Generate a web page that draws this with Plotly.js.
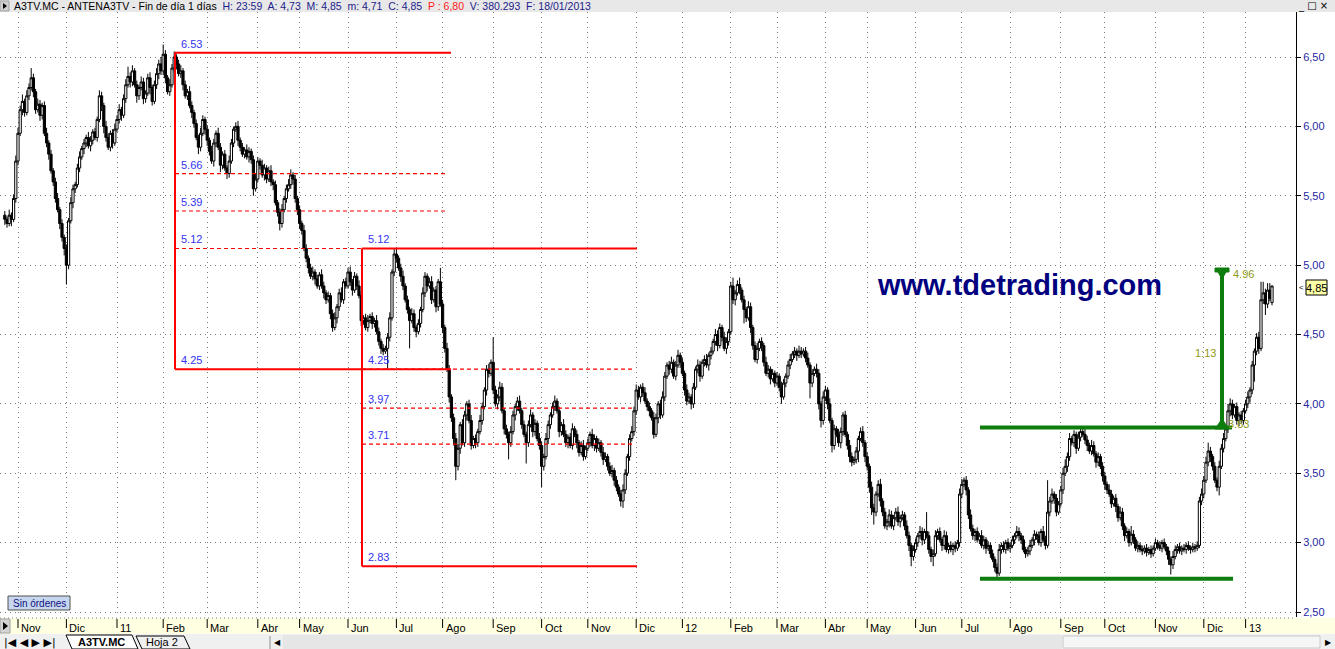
<!DOCTYPE html>
<html><head><meta charset="utf-8">
<script src="https://cdn.plot.ly/plotly-3.0.1.min.js"></script>
<style>html,body{margin:0;padding:0;background:#fff;overflow:hidden}#chart{width:1335px;height:649px}</style>
</head><body><div id="chart"></div>
<script>
// ---- daily closes per month ----
const c_oct10 = [5.33,5.30,5.36,5.33,5.48,5.75];
const c_nov10 = [5.95,6.12,6.18,6.10,6.22,6.28,6.35,6.25,6.12,6.16,6.08,6.15,5.95,5.88,5.80,5.68,5.60,5.48,5.40,5.30,5.20,5.12];
const c_dec10 = [5.00,5.32,5.45,5.55,5.58,5.70,5.78,5.84,5.88,5.92,5.86,5.90,5.96,5.92,6.05,6.22,6.15,6.00,5.92,5.85,5.95,5.88,5.98];
const c_jan11 = [6.05,6.12,6.08,6.20,6.30,6.36,6.32,6.40,6.30,6.22,6.28,6.32,6.20,6.24,6.35,6.28,6.18,6.30,6.38,6.45,6.40];
const c_feb11 = [6.52,6.35,6.25,6.30,6.42,6.50,6.45,6.38,6.40,6.30,6.22,6.25,6.15,6.10,6.02,5.92,5.85,5.95,6.05,5.98];
const c_mar11 = [5.90,5.82,5.75,5.88,5.95,5.85,5.72,5.80,5.70,5.66,5.75,5.88,5.98,6.00,5.90,5.85,5.80,5.83,5.78,5.82,5.76,5.55,5.62];
const c_apr11 = [5.75,5.72,5.65,5.70,5.62,5.68,5.60,5.58,5.45,5.38,5.30,5.40,5.48,5.55,5.58,5.65,5.62,5.48,5.40];
const c_may11 = [5.30,5.25,5.12,5.05,4.98,4.92,4.95,4.90,4.85,4.93,4.85,4.80,4.75,4.78,4.65,4.55,4.62,4.70,4.80,4.75,4.88,4.85];
const c_jun11 = [4.95,4.88,4.82,4.92,4.85,4.78,4.60,4.62,4.55,4.60,4.63,4.58,4.60,4.52,4.45,4.40,4.38,4.40,4.48,4.62,4.95,5.08];
const c_jul11 = [5.05,4.98,4.92,4.85,4.75,4.68,4.60,4.65,4.55,4.52,4.58,4.68,4.80,4.92,4.85,4.88,4.75,4.82,4.70,4.88,4.72];
const c_aug11 = [4.55,4.40,4.25,4.05,3.90,3.75,3.55,3.68,3.85,3.72,3.92,4.00,3.88,3.70,3.75,3.72,3.80,3.88,3.98,4.10,4.25,4.22,4.30];
const c_sep11 = [4.10,4.00,4.05,4.12,3.95,3.82,3.78,3.72,3.80,3.92,3.98,4.02,3.95,3.85,3.78,3.72,3.85,3.92,3.80,3.86,3.75,3.70];
const c_oct11 = [3.55,3.62,3.75,3.85,3.92,3.98,4.02,3.95,3.80,3.85,3.78,3.72,3.76,3.70,3.82,3.78,3.72,3.65,3.70,3.62,3.68];
const c_nov11 = [3.72,3.78,3.70,3.75,3.68,3.72,3.65,3.60,3.62,3.55,3.50,3.52,3.45,3.40,3.35,3.30,3.38,3.50,3.62,3.75,3.80,3.95];
const c_dec11 = [4.10,4.05,4.12,4.08,4.02,3.98,3.95,3.90,3.78,3.90,4.00,3.92,4.05,4.20,4.28,4.25,4.30,4.20,4.28,4.35,4.30];
const c_jan12 = [4.22,4.10,4.02,4.05,4.00,4.12,4.25,4.28,4.20,4.30,4.32,4.28,4.35,4.38,4.45,4.50,4.42,4.55,4.48,4.40,4.45,4.52];
const c_feb12 = [4.85,4.75,4.80,4.86,4.82,4.75,4.68,4.62,4.70,4.55,4.42,4.32,4.40,4.45,4.42,4.30,4.22,4.25,4.18,4.22,4.15];
const c_mar12 = [4.20,4.12,4.05,4.15,4.20,4.28,4.32,4.36,4.38,4.35,4.38,4.36,4.38,4.33,4.28,4.15,4.22,4.25,4.22,4.00,3.88,4.05];
const c_apr12 = [4.10,4.00,3.88,3.70,3.82,3.78,3.72,3.80,3.92,3.78,3.70,3.62,3.58,3.60,3.66,3.75,3.80,3.72,3.62];
const c_may12 = [3.55,3.40,3.25,3.22,3.35,3.42,3.30,3.22,3.12,3.15,3.20,3.12,3.18,3.22,3.15,3.18,3.20,3.12,3.05,2.98,2.90,2.95];
const c_jun12 = [3.00,3.05,3.08,3.02,3.08,3.05,2.95,2.90,2.92,3.05,3.08,3.02,2.98,3.05,2.95,2.98,2.95,2.98,2.96,3.00,3.35];
const c_jul12 = [3.42,3.45,3.38,3.20,3.10,3.05,3.08,3.02,3.05,2.98,3.02,2.96,2.98,2.92,2.88,2.82,2.78,2.95,2.98,2.95,3.00,2.96];
const c_aug12 = [2.98,3.02,3.05,3.08,3.05,3.02,2.95,2.92,2.94,2.98,3.02,3.06,3.05,3.00,3.08,3.02,2.98,3.22,3.30,3.35,3.32,3.22,3.28];
const c_sep12 = [3.38,3.50,3.55,3.62,3.75,3.72,3.78,3.68,3.76,3.80,3.78,3.74,3.70,3.66,3.70,3.64,3.58,3.62,3.55,3.48];
const c_oct12 = [3.42,3.38,3.35,3.28,3.32,3.26,3.18,3.22,3.12,3.05,3.08,3.00,3.06,3.02,2.96,2.98,2.95,2.94,2.96,2.93,2.95,2.92,2.96];
const c_nov12 = [3.00,2.98,2.96,3.00,2.97,2.94,2.88,2.84,2.90,2.95,2.97,2.94,2.96,2.95,2.98,2.96,2.95,2.97,2.96,2.98,3.30,3.35];
const c_dec12 = [3.45,3.58,3.66,3.62,3.55,3.45,3.40,3.55,3.68,3.75,3.82,3.95,4.00,3.92,3.98,3.88,3.92,3.88,3.95];
const c_jan13 = [4.00,4.05,4.10,4.28,4.38,4.48,4.40,4.75,4.80,4.72,4.82,4.76,4.85];

// ---- upper / lower wicks per day, in cents ----
const u_oct10 = [3,2,4,2,3,4];
const d_oct10 = [4,3,2,5,2,3];
const u_nov10 = [4,3,5,2,4,3,7,3,2,4,3,2,3,4,2,3,2,3,4,2,3,2];
const d_nov10 = [3,2,4,3,2,3,2,4,3,2,4,3,2,3,4,2,3,3,2,4,3,5];
const u_dec10 = [3,2,4,3,2,3,4,2,3,2,4,3,2,3,2,4,3,2,4,3,2,3,4];
const d_dec10 = [14,3,2,4,3,2,3,2,4,3,2,4,3,2,3,2,4,5,3,2,3,4,2];
const u_jan11 = [3,4,2,3,4,7,3,4,2,3,2,4,3,2,3,4,2,3,4,3,5];
const d_jan11 = [2,3,4,2,3,2,4,3,2,5,3,2,4,3,2,5,3,2,3,4,3];
const u_feb11 = [7,3,2,4,3,4,2,3,4,2,3,2,4,3,2,3,2,4,3,2];
const d_feb11 = [3,4,2,3,2,3,4,2,3,4,2,3,2,4,3,2,5,3,2,4];
const u_mar11 = [3,2,4,3,2,4,3,2,3,2,4,3,2,3,4,2,3,2,4,3,2,3,4];
const d_mar11 = [4,3,2,4,3,2,5,3,2,4,3,2,3,2,4,3,2,3,2,4,3,5,2];
const u_apr11 = [3,2,4,3,2,3,4,2,3,2,3,4,2,3,4,4,2,3,2];
const d_apr11 = [2,3,2,4,3,2,3,4,2,3,5,3,2,3,2,3,4,3,4];
const u_may11 = [3,2,4,3,2,3,4,2,3,2,4,3,2,3,2,3,4,2,3,4,2,3];
const d_may11 = [4,3,2,3,4,2,3,4,2,3,2,4,3,2,4,3,2,4,3,2,3,2];
const u_jun11 = [3,4,2,3,2,4,3,2,3,4,2,3,2,4,3,2,3,2,3,4,2,4];
const d_jun11 = [2,3,4,2,3,2,4,3,2,3,2,4,3,2,3,4,3,2,15,3,2,3];
const u_jul11 = [4,2,3,4,2,3,2,4,3,2,3,2,4,3,2,3,4,2,3,2,10];
const d_jul11 = [3,2,4,3,2,3,20,2,3,4,2,3,2,3,4,2,3,2,4,3,2];
const u_aug11 = [3,2,4,3,2,3,4,3,2,4,3,2,3,4,2,3,2,4,3,2,3,4,2];
const d_aug11 = [4,3,2,4,3,5,10,3,4,2,3,4,2,3,2,4,3,2,3,2,4,3,2];
const u_sep11 = [18,3,2,4,3,2,3,2,4,3,2,3,4,2,3,2,3,4,2,3,2,4];
const d_sep11 = [3,2,4,3,2,4,3,12,3,2,4,3,2,3,2,15,3,2,4,3,2,3];
const u_oct11 = [3,2,4,3,2,3,4,2,3,2,4,3,2,3,4,2,3,2,3,4,2];
const d_oct11 = [15,3,2,4,3,2,3,2,4,3,2,3,4,2,3,2,4,3,2,3,2];
const u_nov11 = [3,2,4,3,2,3,2,4,3,2,3,4,2,3,2,3,4,3,2,3,4,3];
const d_nov11 = [2,3,2,4,3,2,3,4,2,3,2,3,4,3,2,4,5,3,2,3,2,3];
const u_dec11 = [4,3,2,3,4,2,3,2,4,3,2,3,4,3,2,3,4,2,3,4,2];
const d_dec11 = [3,2,4,3,2,3,4,2,3,2,4,3,2,3,2,4,3,2,3,2,4];
const u_jan12 = [3,2,4,3,2,3,2,4,3,2,3,4,2,3,2,4,3,3,2,4,3,2];
const d_jan12 = [2,4,3,2,4,3,2,3,4,2,3,2,4,3,2,3,4,2,3,2,4,3];
const u_feb12 = [3,6,2,3,5,2,3,2,4,3,2,3,4,2,3,2,4,3,2,3,2];
const d_feb12 = [2,3,4,2,3,2,10,3,2,4,3,2,3,2,4,3,2,3,4,2,3];
const u_mar12 = [3,2,4,3,2,3,4,2,3,2,4,3,2,3,4,2,3,2,4,3,2,4];
const d_mar12 = [2,3,5,2,3,2,3,2,3,4,2,3,2,3,2,11,3,2,3,4,5,3];
const u_apr12 = [3,2,4,2,3,2,4,3,2,3,2,4,3,2,3,2,3,4,2];
const d_apr12 = [3,4,2,5,3,2,3,4,3,2,3,4,3,2,3,8,2,3,4];
const u_may12 = [3,2,4,3,2,3,4,2,3,2,4,3,2,3,4,2,3,2,4,3,2,3];
const d_may12 = [3,4,5,9,3,2,4,3,2,3,4,2,3,2,3,4,2,3,2,4,7,3];
const u_jun12 = [3,2,4,3,2,14,3,2,3,4,2,3,2,4,3,2,3,2,3,2,4];
const d_jun12 = [2,3,2,4,3,2,3,4,7,2,3,2,4,3,2,3,2,4,3,2,3];
const u_jul12 = [4,2,3,2,4,3,2,3,2,4,3,2,3,2,3,2,3,4,2,3,2,3];
const d_jul12 = [3,2,4,3,2,3,4,2,3,2,3,4,2,3,2,3,4,2,3,2,3,2];
const u_aug12 = [2,3,2,4,3,2,3,2,3,4,2,3,2,3,2,4,3,23,3,4,2,3,2];
const d_aug12 = [3,2,3,2,4,3,2,3,2,3,2,4,3,2,3,2,3,2,3,2,4,3,2];
const u_sep12 = [3,4,5,3,4,2,3,2,4,4,3,6,3,2,4,3,2,3,2,3];
const d_sep12 = [2,3,2,4,3,2,3,4,2,3,2,3,4,2,3,2,4,3,2,4];
const u_oct12 = [3,2,4,3,2,3,2,4,3,2,3,2,6,3,2,3,2,3,2,3,2,3,2];
const d_oct12 = [4,3,2,3,2,4,3,2,3,4,2,3,2,3,2,3,2,3,2,3,2,3,2];
const u_nov12 = [3,2,3,2,3,2,3,2,4,3,2,3,2,3,2,3,2,3,2,3,3,4];
const d_nov12 = [2,3,2,3,2,3,4,7,3,2,3,2,3,2,3,2,3,2,3,2,2,3];
const u_dec12 = [3,4,6,3,2,3,2,4,3,4,3,5,4,3,2,3,2,3,2];
const d_dec12 = [3,2,3,4,3,2,3,6,2,3,2,3,4,3,2,3,4,2,3];
const u_jan13 = [3,4,2,3,2,3,4,13,8,3,5,5,0];
const d_jan13 = [2,3,4,3,12,3,4,2,3,8,3,2,2];

const firstOpen = 5.36;   // first session open
const lastOpen = 4.73;    // "A: 4,73" in the header

// month tick labels (Nov 2010 .. Ene 2013)
const monthLabels = ['Nov','Dic','11','Feb','Mar','Abr','May','Jun','Jul','Ago','Sep','Oct','Nov','Dic','12','Feb','Mar','Abr','May','Jun','Jul','Ago','Sep','Oct','Nov','Dic','13'];
const priceTicks = [2.5,3.0,3.5,4.0,4.5,5.0,5.5,6.0,6.5];
const priceTickText = ['2,50','3,00','3,50','4,00','4,50','5,00','5,50','6,00','6,50'];

// Fibonacci retracements (red) and range breakout (green)
const fib1Levels = [6.53,5.66,5.39,5.12,4.25];
const fib2Levels = [5.12,4.25,3.97,3.71,2.83];
const rangeTop = 3.83, rangeBottom = 2.74, targetLevel = 4.96, targetText = '1:13';
const lastPrice = '4,85';

// ---- build OHLC ----
const C = [c_oct10,c_nov10,c_dec10,c_jan11,c_feb11,c_mar11,c_apr11,c_may11,c_jun11,c_jul11,c_aug11,c_sep11,c_oct11,c_nov11,c_dec11,c_jan12,c_feb12,c_mar12,c_apr12,c_may12,c_jun12,c_jul12,c_aug12,c_sep12,c_oct12,c_nov12,c_dec12,c_jan13];
const U = [u_oct10,u_nov10,u_dec10,u_jan11,u_feb11,u_mar11,u_apr11,u_may11,u_jun11,u_jul11,u_aug11,u_sep11,u_oct11,u_nov11,u_dec11,u_jan12,u_feb12,u_mar12,u_apr12,u_may12,u_jun12,u_jul12,u_aug12,u_sep12,u_oct12,u_nov12,u_dec12,u_jan13];
const D = [d_oct10,d_nov10,d_dec10,d_jan11,d_feb11,d_mar11,d_apr11,d_may11,d_jun11,d_jul11,d_aug11,d_sep11,d_oct11,d_nov11,d_dec11,d_jan12,d_feb12,d_mar12,d_apr12,d_may12,d_jun12,d_jul12,d_aug12,d_sep12,d_oct12,d_nov12,d_dec12,d_jan13];

const X=[],O=[],H=[],L=[],CL=[],monthStart=[];
let idx=0, prev=firstOpen;
C.forEach((m,mi)=>{
  monthStart.push(idx);
  m.forEach((cv,di)=>{
    let op = prev;
    if(mi===C.length-1 && di===m.length-1) op = lastOpen;
    const uw = (U[mi][di]!==undefined?U[mi][di]:2)/100;
    const dw = (D[mi][di]!==undefined?D[mi][di]:2)/100;
    X.push(idx); O.push(op); CL.push(cv);
    H.push(+(Math.max(op,cv)+uw).toFixed(2));
    L.push(+(Math.min(op,cv)-dw).toFixed(2));
    prev = cv; idx++;
  });
});
const tickIdx = monthStart.slice(1);

// ---- geometry helpers (pixel -> paper) ----
const W=1335,HGT=649,PL=0,PR=1296,PT=12,PB=617;
const px = v => (v-PL)/(PR-PL);
const py = v => (PB-v)/(PB-PT);
const dx = p => (p-4.8)/2.2; // pixel -> bar index

const shapes=[], ann=[];
const FONT='Liberation Sans, Arial, sans-serif';

// fib 1
const RED='#ff0000';
const f1x0=dx(175), f1x1=dx(451), f1xd=dx(448);
const f2x0=dx(362), f2x1=dx(637), f2xd=dx(635);
function hline(x0,x1,y,color,width,dash){shapes.push({type:'line',xref:'x',yref:'y',x0:x0,x1:x1,y0:y,y1:y,line:{color:color,width:width,dash:dash||'solid'}});}
function vline(x,y0,y1,color,width){shapes.push({type:'line',xref:'x',yref:'y',x0:x,x1:x,y0:y0,y1:y1,line:{color:color,width:width}});}
fib1Levels.forEach((v,i)=>{
  const solid = (i===0||i===fib1Levels.length-1);
  if(solid) hline(f1x0,f1x1,v,RED,2); else hline(f1x0,(i===3?f2x0:f1xd),v,RED,1.2,'4px,3px');
  ann.push({xref:'x',yref:'y',x:f1x0,y:v,xanchor:'left',yanchor:'bottom',xshift:4,yshift:1,text:v.toFixed(2),showarrow:false,font:{family:FONT,size:11,color:'#3434f0'}});
});
vline(f1x0,fib1Levels[0],fib1Levels[4],RED,2);
fib2Levels.forEach((v,i)=>{
  const solid = (i===0||i===fib2Levels.length-1);
  if(solid) hline(f2x0,f2x1,v,RED,2); else hline(f2x0,f2xd,v,RED,1.2,'4px,3px');
  ann.push({xref:'x',yref:'y',x:f2x0,y:v,xanchor:'left',yanchor:'bottom',xshift:4,yshift:1,text:v.toFixed(2),showarrow:false,font:{family:FONT,size:11,color:'#3434f0'}});
});
vline(f2x0,fib2Levels[0],fib2Levels[4],RED,2);

// green range + target
const GRN='#0d7d0d';
hline(dx(980),dx(1232),rangeTop,GRN,4);
hline(dx(980),dx(1233),rangeBottom,GRN,4);
vline(dx(1222),rangeTop,targetLevel,GRN,4);
shapes.push({type:'path',xref:'paper',yref:'paper',path:`M${px(1215)},${py(268)} L${px(1229)},${py(268)} L${px(1229)},${py(272)} L${px(1226)},${py(272)} L${px(1222)},${py(279)} L${px(1218)},${py(272)} L${px(1215)},${py(272)} Z`,fillcolor:GRN,line:{color:GRN,width:1}});
shapes.push({type:'path',xref:'paper',yref:'paper',path:`M${px(1222)},${py(419)} L${px(1229)},${py(429)} L${px(1215)},${py(429)} Z`,fillcolor:GRN,line:{color:GRN,width:1}});
const OLV='#8e9a18';
ann.push({xref:'paper',yref:'paper',x:px(1231),y:py(274),xanchor:'left',yanchor:'middle',text:targetLevel.toFixed(2),showarrow:false,font:{family:FONT,size:11,color:OLV}});
ann.push({xref:'paper',yref:'paper',x:px(1218),y:py(353),xanchor:'right',yanchor:'middle',text:targetText,showarrow:false,font:{family:FONT,size:11,color:OLV}});
ann.push({xref:'paper',yref:'paper',x:px(1226),y:py(424),xanchor:'left',yanchor:'middle',text:rangeTop.toFixed(2),showarrow:false,font:{family:FONT,size:11,color:OLV}});

// watermark
ann.push({xref:'paper',yref:'paper',x:px(1019.5),y:py(285),xanchor:'center',yanchor:'middle',text:'<b>www.tdetrading.com</b>',showarrow:false,font:{family:FONT,size:29,color:'#000080'}});

// header bar
shapes.push({type:'rect',xref:'paper',yref:'paper',x0:px(0),x1:px(W),y0:py(12),y1:py(0),fillcolor:'#e8e8e8',line:{width:0},layer:'above'});
shapes.push({type:'rect',xref:'paper',yref:'paper',x0:px(0),x1:px(9),y0:py(11),y1:py(1),fillcolor:'#d0d0d0',line:{color:'#a0a0a0',width:1},layer:'above'});
shapes.push({type:'path',xref:'paper',yref:'paper',path:`M${px(3)},${py(3)} L${px(7)},${py(6)} L${px(3)},${py(9)} Z`,fillcolor:'#000',line:{width:0},layer:'above'});
const NAV='#1c1c8c';
ann.push({xref:'paper',yref:'paper',x:px(12),y:py(6),xanchor:'left',yanchor:'middle',showarrow:false,
  text:'A3TV.MC - ANTENA3TV - Fin de día 1 días&nbsp; <span style="color:'+NAV+'">H: 23:59&nbsp; A: 4,73&nbsp; M: 4,85&nbsp; m: 4,71&nbsp; C: 4,85</span>&nbsp; <span style="color:#ff1a1a">P : 6,80</span>&nbsp; <span style="color:'+NAV+'">V: 380.293&nbsp; F: 18/01/2013</span>',
  font:{family:FONT,size:10.5,color:'#000'}});
ann.push({xref:'paper',yref:'paper',x:px(1313),y:py(6),xanchor:'center',yanchor:'middle',showarrow:false,text:'_ □ ×',font:{family:'DejaVu Sans, sans-serif',size:10,color:'#000'}});

// right panel last price label
shapes.push({type:'rect',xref:'paper',yref:'paper',x0:px(1306),x1:px(1327),y0:py(295),y1:py(280),fillcolor:'#ffffa8',line:{color:'#000',width:1}});
ann.push({xref:'paper',yref:'paper',x:px(1316.5),y:py(287.5),xanchor:'center',yanchor:'middle',showarrow:false,text:lastPrice,font:{family:FONT,size:11,color:'#000'}});
ann.push({xref:'paper',yref:'paper',x:px(1302),y:py(287.5),xanchor:'center',yanchor:'middle',showarrow:false,text:'&lt;',font:{family:FONT,size:8,color:'#000'}});

// "Sin órdenes" box
shapes.push({type:'rect',xref:'paper',yref:'paper',x0:px(8),x1:px(70),y0:py(610),y1:py(596),fillcolor:'#c6d6ee',line:{color:'#505050',width:1}});
ann.push({xref:'paper',yref:'paper',x:px(39),y:py(603),xanchor:'center',yanchor:'middle',showarrow:false,text:'Sin órdenes',font:{family:FONT,size:10,color:'#101080'}});

// time axis band
shapes.push({type:'rect',xref:'paper',yref:'paper',x0:px(0),x1:px(W),y0:py(634),y1:py(618),fillcolor:'#ffffe1',line:{width:0}});
shapes.push({type:'line',xref:'paper',yref:'paper',x0:px(0),x1:px(PR),y0:py(618),y1:py(618),line:{color:'#808080',width:1,dash:'1px,3px'}});
shapes.push({type:'rect',xref:'paper',yref:'paper',x0:px(0),x1:px(10),y0:py(633),y1:py(619),fillcolor:'#d4d4d4',line:{color:'#a0a0a0',width:1}});
shapes.push({type:'path',xref:'paper',yref:'paper',path:`M${px(3)},${py(622)} L${px(8)},${py(626)} L${px(3)},${py(630)} Z`,fillcolor:'#000',line:{width:0}});
tickIdx.forEach((t,i)=>{
  shapes.push({type:'line',xref:'x',yref:'paper',x0:t,x1:t,y0:py(619),y1:py(628),line:{color:'#000',width:1}});
  ann.push({xref:'x',yref:'paper',x:t,y:py(628),xanchor:'left',yanchor:'middle',xshift:1,showarrow:false,text:monthLabels[i],font:{family:FONT,size:11,color:'#000'}});
});

// sheet tabs row
shapes.push({type:'rect',xref:'paper',yref:'paper',x0:px(0),x1:px(W),y0:py(649),y1:py(634),fillcolor:'#f0f0f0',line:{width:0}});
shapes.push({type:'rect',xref:'paper',yref:'paper',x0:px(283),x1:px(1062),y0:py(649),y1:py(635),fillcolor:'#e6e6e6',line:{width:0}});
shapes.push({type:'rect',xref:'paper',yref:'paper',x0:px(1063),x1:px(1320),y0:py(648),y1:py(636),fillcolor:'#f6f6f6',line:{color:'#c8c8c8',width:1}});
shapes.push({type:'path',xref:'paper',yref:'paper',path:`M${px(66)},${py(635)} L${px(132)},${py(635)} L${px(138)},${py(649)} L${px(72)},${py(649)} Z`,fillcolor:'#ffffff',line:{color:'#000',width:1}});
shapes.push({type:'path',xref:'paper',yref:'paper',path:`M${px(136)},${py(636)} L${px(184)},${py(636)} L${px(190)},${py(649)} L${px(142)},${py(649)} Z`,fillcolor:'#f0f0f0',line:{color:'#000',width:1}});
shapes.push({type:'line',xref:'paper',yref:'paper',x0:px(270),x1:px(270),y0:py(636),y1:py(649),line:{color:'#909090',width:1}});
ann.push({xref:'paper',yref:'paper',x:px(2),y:py(642),xanchor:'left',yanchor:'middle',showarrow:false,text:'|◀ ◀ ▶ ▶|',font:{family:'DejaVu Sans, sans-serif',size:11,color:'#000'}});
ann.push({xref:'paper',yref:'paper',x:px(101),y:py(642),xanchor:'center',yanchor:'middle',showarrow:false,text:'<b>A3TV.MC</b>',font:{family:FONT,size:11,color:'#000'}});
ann.push({xref:'paper',yref:'paper',x:px(162),y:py(642),xanchor:'center',yanchor:'middle',showarrow:false,text:'Hoja 2',font:{family:FONT,size:11,color:'#000'}});
ann.push({xref:'paper',yref:'paper',x:px(277),y:py(642),xanchor:'center',yanchor:'middle',showarrow:false,text:'◀',font:{family:'DejaVu Sans, sans-serif',size:8,color:'#000'}});
ann.push({xref:'paper',yref:'paper',x:px(1328),y:py(642),xanchor:'center',yanchor:'middle',showarrow:false,text:'▶',font:{family:'DejaVu Sans, sans-serif',size:8,color:'#000'}});

const trace = {
  type:'candlestick', x:X, open:O, high:H, low:L, close:CL,
  increasing:{line:{color:'#000',width:1},fillcolor:'#ffffff'},
  decreasing:{line:{color:'#000',width:1},fillcolor:'#000000'},
  whiskerwidth:0, hoverinfo:'skip', showlegend:false
};

const layout = {
  width:W, height:HGT,
  margin:{l:PL,r:W-PR,t:PT,b:HGT-PB,pad:0},
  paper_bgcolor:'#ffffff', plot_bgcolor:'#ffffff',
  showlegend:false, hovermode:false, boxgap:0, boxgroupgap:0,
  xaxis:{range:[dx(PL),dx(PR)],tickvals:tickIdx,showticklabels:false,ticks:'',showgrid:true,gridcolor:'#7a7a7a',griddash:'1px,4px',gridwidth:1,zeroline:false,showline:false,rangeslider:{visible:false},fixedrange:true},
  yaxis:{side:'right',range:[6.5-(PB-57)/138.75,6.5+(57-PT)/138.75],tickvals:priceTicks,ticktext:priceTickText,showgrid:true,gridcolor:'#7a7a7a',griddash:'1px,4px',gridwidth:1,zeroline:false,showline:true,linecolor:'#000',linewidth:1,ticks:'outside',ticklen:4,tickcolor:'#000',tickfont:{family:FONT,size:11,color:'#2626a0'},fixedrange:true},
  shapes:shapes, annotations:ann
};
Plotly.newPlot('chart',[trace],layout,{staticPlot:true,displayModeBar:false});
</script></body></html>
